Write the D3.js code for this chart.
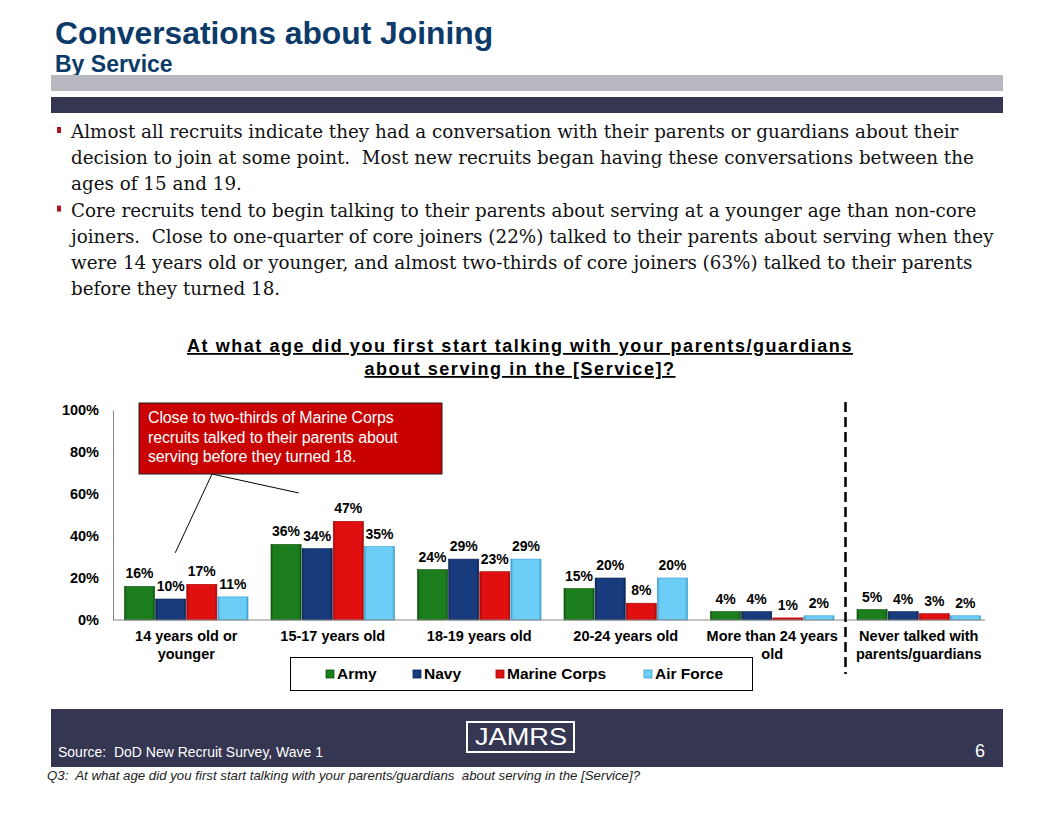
<!DOCTYPE html>
<html>
<head>
<meta charset="utf-8">
<script src="https://cdn.jsdelivr.net/npm/d3@7"></script>
<style>
  body { margin: 0; background: #fff; }
  svg { display: block; font-family: "Liberation Sans", Arial, sans-serif; }
  text { white-space: pre; }
</style>
</head>
<body>
<script>
// chart data
var categories = [
  ["14 years old or", "younger"],
  ["15-17 years old"],
  ["18-19 years old"],
  ["20-24 years old"],
  ["More than 24 years", "old"],
  ["Never talked with", "parents/guardians"]
];
var services = ["Army", "Navy", "Marine Corps", "Air Force"];
var army = [16, 36, 24, 15, 4, 5];
var navy = [10, 34, 29, 20, 4, 4];
var marines = [17, 47, 23, 8, 1, 3];
var airForce = [11, 35, 29, 20, 2, 2];
var yTicks = [0, 20, 40, 60, 80, 100];

var seriesValues = [army, navy, marines, airForce];
var colors = ["#1b7d1b", "#183b7e", "#e01010", "#6ccdf7"];
var darkColors = ["#0c520c", "#0b214f", "#a00808", "#3a9fd0"];

var bullets = [
  ["Almost all recruits indicate they had a conversation with their parents or guardians about their",
   "decision to join at some point.  Most new recruits began having these conversations between the",
   "ages of 15 and 19."],
  ["Core recruits tend to begin talking to their parents about serving at a younger age than non-core",
   "joiners.  Close to one-quarter of core joiners (22%) talked to their parents about serving when they",
   "were 14 years old or younger, and almost two-thirds of core joiners (63%) talked to their parents",
   "before they turned 18."]
];

var W = 1056, H = 816;
var svg = d3.select("body").append("svg")
  .attr("width", W)
  .attr("height", H);

var defs = svg.append("defs");
// bevel-ish gradient per series
colors.forEach(function (c, i) {
  var g = defs.append("linearGradient").attr("id", "grad" + i)
    .attr("x1", 0).attr("x2", 1).attr("y1", 0).attr("y2", 0);
  g.append("stop").attr("offset", "0%").attr("stop-color", darkColors[i]);
  g.append("stop").attr("offset", "8%").attr("stop-color", c);
  g.append("stop").attr("offset", "92%").attr("stop-color", c);
  g.append("stop").attr("offset", "100%").attr("stop-color", darkColors[i]);
});

// header
svg.append("text").attr("x", 55).attr("y", 44)
  .style("font-size", "31.8px").style("font-weight", "bold").style("fill", "#0d3b69")
  .text("Conversations about Joining");
svg.append("text").attr("x", 55).attr("y", 72)
  .style("font-size", "23px").style("font-weight", "bold").style("fill", "#0d3b69")
  .text("By Service");
svg.append("rect").attr("x", 51).attr("y", 75).attr("width", 952).attr("height", 16).attr("fill", "#b8b8c1");
svg.append("rect").attr("x", 51).attr("y", 97).attr("width", 952).attr("height", 16).attr("fill", "#343652");

// bullet text
var lineY = 138;
var bodyG = svg.append("g");
var bodyLines = [];
bullets.forEach(function (para) {
  svg.append("rect").attr("x", 57).attr("y", lineY - 11).attr("width", 4).attr("height", 6).attr("fill", "#b01020");
  para.forEach(function (ln) {
    var t = bodyG.append("text").attr("x", 0).attr("y", lineY)
      .style("font-family", "'DejaVu Serif', 'Liberation Serif', serif")
      .style("font-size", "19px").style("fill", "#111")
      .text(ln);
    bodyLines.push(t);
    lineY += 26.2;
  });
});
// squeeze the block so the widest line fits the width it has in the slide
var widest = d3.max(bodyLines, function (t) { return t.node().getComputedTextLength(); });
bodyG.attr("transform", "translate(71,0) scale(" + (923 / widest) + ",1)");

// chart title
var titleLines = ["At what age did you first start talking with your parents/guardians", "about serving in the [Service]?"];
titleLines.forEach(function (t, i) {
  svg.append("text").attr("x", 520).attr("y", 352 + i * 23)
    .attr("text-anchor", "middle")
    .style("font-size", "18px").style("font-weight", "bold").style("letter-spacing", "1.55px")
    .style("text-decoration", "underline").style("fill", "#000")
    .text(t);
});

// scales
var x0 = d3.scaleBand().domain(d3.range(categories.length)).range([113, 992]).paddingInner(0.15).paddingOuter(0.075);
var x1 = d3.scaleBand().domain(d3.range(services.length)).range([0, x0.bandwidth()]);
var y = d3.scaleLinear().domain([0, 100]).range([620, 410]);

// y axis
var yAxis = svg.append("g").attr("transform", "translate(113,0)")
  .call(d3.axisLeft(y).tickValues(yTicks).tickFormat(function (d) { return d + "%"; }).tickSize(0).tickPadding(14));
yAxis.select(".domain").attr("stroke", "#888");
yAxis.selectAll("text").style("font-size", "14.5px").style("font-weight", "bold").style("font-family", "'Liberation Sans', Arial, sans-serif").attr("fill", "#000");

// bars
var groups = svg.append("g").selectAll("g")
  .data(categories)
  .join("g")
  .attr("transform", function (d, i) { return "translate(" + x0(i) + ",0)"; });

groups.each(function (cat, ci) {
  var g = d3.select(this);
  seriesValues.forEach(function (vals, si) {
    var v = vals[ci];
    g.append("rect")
      .attr("x", x1(si) + 0.5)
      .attr("y", y(v))
      .attr("width", x1.bandwidth() - 1)
      .attr("height", y(0) - y(v))
      .attr("fill", "url(#grad" + si + ")")
      .attr("stroke", darkColors[si]).attr("stroke-width", 0.6);
    g.append("text")
      .attr("x", x1(si) + x1.bandwidth() / 2)
      .attr("y", y(v) - 8)
      .attr("text-anchor", "middle")
      .style("font-size", "14px").style("font-weight", "bold")
      .text(v + "%");
  });
  cat.forEach(function (ln, li) {
    g.append("text")
      .attr("x", x0.bandwidth() / 2)
      .attr("y", 641 + li * 18)
      .attr("text-anchor", "middle")
      .style("font-size", "14.5px").style("font-weight", "bold")
      .text(ln);
  });
});

// x axis baseline
svg.append("line").attr("x1", 113).attr("x2", 985).attr("y1", y(0)).attr("y2", y(0))
  .attr("stroke", "#888").attr("stroke-width", 1.2);

// dashed separator between last two categories
var sepX = (x0(4) + x0.bandwidth() + x0(5)) / 2;
svg.append("line").attr("x1", sepX).attr("x2", sepX).attr("y1", 402).attr("y2", 674)
  .attr("stroke", "#000").attr("stroke-width", 2.5).attr("stroke-dasharray", "10,5");

// callout
var calloutLines = ["Close to two-thirds of Marine Corps", "recruits talked to their parents about", "serving before they turned 18."];
var anchorX = 212, anchorY = 474;
svg.append("line").attr("x1", anchorX).attr("y1", anchorY)
  .attr("x2", x0(0) + x1(2) - 11).attr("y2", y(32))
  .attr("stroke", "#000").attr("stroke-width", 1);
svg.append("line").attr("x1", anchorX).attr("y1", anchorY)
  .attr("x2", x0(1) + x1(1) - 3).attr("y2", y(60.5))
  .attr("stroke", "#000").attr("stroke-width", 1);
svg.append("rect").attr("x", 139).attr("y", 403).attr("width", 303).attr("height", 71)
  .attr("fill", "#c80000").attr("stroke", "#222").attr("stroke-width", 1);
calloutLines.forEach(function (t, i) {
  svg.append("text").attr("x", 148).attr("y", 423 + i * 19.7)
    .style("font-size", "16px").style("fill", "#fff").style("letter-spacing", "-0.15px")
    .text(t);
});

// legend
svg.append("rect").attr("x", 290.5).attr("y", 657.5).attr("width", 462).attr("height", 33)
  .attr("fill", "#fff").attr("stroke", "#000").attr("stroke-width", 1);
var legendX = [326, 413, 496, 644];
services.forEach(function (s, i) {
  svg.append("rect").attr("x", legendX[i]).attr("y", 670).attr("width", 8).attr("height", 8)
    .attr("fill", colors[i]).attr("stroke", darkColors[i]).attr("stroke-width", 0.8);
  svg.append("text").attr("x", legendX[i] + 11).attr("y", 679)
    .style("font-size", "15.5px").style("font-weight", "bold")
    .text(s);
});

// footer
svg.append("rect").attr("x", 51).attr("y", 709).attr("width", 952).attr("height", 58).attr("fill", "#343652");
svg.append("rect").attr("x", 467).attr("y", 722).attr("width", 107).attr("height", 30)
  .attr("fill", "none").attr("stroke", "#fff").attr("stroke-width", 2);
svg.append("text").attr("x", 475).attr("y", 745)
  .attr("textLength", 92).attr("lengthAdjust", "spacingAndGlyphs")
  .style("font-size", "23px").style("fill", "#fff")
  .text("JAMRS");
svg.append("text").attr("x", 58).attr("y", 757)
  .attr("textLength", 265).attr("lengthAdjust", "spacingAndGlyphs")
  .style("font-size", "15px").style("fill", "#fff")
  .text("Source:  DoD New Recruit Survey, Wave 1");
svg.append("text").attr("x", 980).attr("y", 757).attr("text-anchor", "middle")
  .style("font-size", "18px").style("fill", "#fff")
  .text("6");
svg.append("text").attr("x", 47).attr("y", 780)
  .attr("textLength", 593).attr("lengthAdjust", "spacingAndGlyphs")
  .style("font-size", "13px").style("font-style", "italic").style("fill", "#222")
  .text("Q3:  At what age did you first start talking with your parents/guardians  about serving in the [Service]?");
</script>
</body>
</html>
